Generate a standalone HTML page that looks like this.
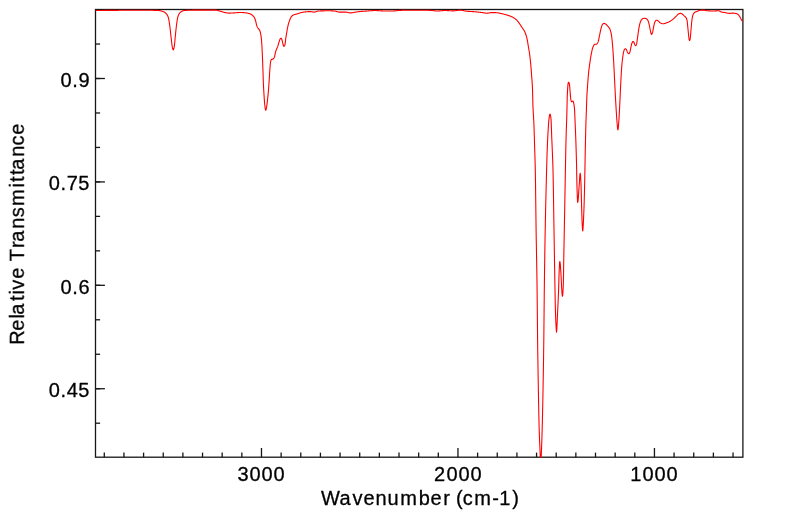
<!DOCTYPE html>
<html><head><meta charset="utf-8"><title>IR Spectrum</title>
<style>
html,body{margin:0;padding:0;background:#fff;}
body{width:799px;height:516px;overflow:hidden;font-family:"Liberation Sans",sans-serif;}
svg{display:block;}
text{font-family:"Liberation Sans",sans-serif;fill:#000;stroke:#000;stroke-width:0.3px;stroke-linejoin:round;}
</style></head><body>
<svg width="799" height="516" viewBox="0 0 799 516">
<rect width="799" height="516" fill="#fff"/>
<defs><clipPath id="c"><rect x="95.5" y="8.5" width="647.40" height="449.00"/></clipPath></defs>
<g stroke="#161616" stroke-width="1.3" fill="none">
<rect x="95.5" y="9.5" width="647.40" height="447.70"/>
<line x1="104.29" y1="457.2" x2="104.29" y2="452.60"/>
<line x1="123.94" y1="457.2" x2="123.94" y2="452.60"/>
<line x1="143.59" y1="457.2" x2="143.59" y2="452.60"/>
<line x1="163.24" y1="457.2" x2="163.24" y2="452.60"/>
<line x1="182.89" y1="457.2" x2="182.89" y2="452.60"/>
<line x1="202.54" y1="457.2" x2="202.54" y2="452.60"/>
<line x1="222.18" y1="457.2" x2="222.18" y2="452.60"/>
<line x1="241.83" y1="457.2" x2="241.83" y2="452.60"/>
<line x1="261.48" y1="457.2" x2="261.48" y2="448.00"/>
<line x1="281.13" y1="457.2" x2="281.13" y2="452.60"/>
<line x1="300.78" y1="457.2" x2="300.78" y2="452.60"/>
<line x1="320.42" y1="457.2" x2="320.42" y2="452.60"/>
<line x1="340.07" y1="457.2" x2="340.07" y2="452.60"/>
<line x1="359.72" y1="457.2" x2="359.72" y2="452.60"/>
<line x1="379.37" y1="457.2" x2="379.37" y2="452.60"/>
<line x1="399.02" y1="457.2" x2="399.02" y2="452.60"/>
<line x1="418.67" y1="457.2" x2="418.67" y2="452.60"/>
<line x1="438.31" y1="457.2" x2="438.31" y2="452.60"/>
<line x1="457.96" y1="457.2" x2="457.96" y2="448.00"/>
<line x1="477.61" y1="457.2" x2="477.61" y2="452.60"/>
<line x1="497.26" y1="457.2" x2="497.26" y2="452.60"/>
<line x1="516.91" y1="457.2" x2="516.91" y2="452.60"/>
<line x1="536.56" y1="457.2" x2="536.56" y2="452.60"/>
<line x1="556.20" y1="457.2" x2="556.20" y2="452.60"/>
<line x1="575.85" y1="457.2" x2="575.85" y2="452.60"/>
<line x1="595.50" y1="457.2" x2="595.50" y2="452.60"/>
<line x1="615.15" y1="457.2" x2="615.15" y2="452.60"/>
<line x1="634.80" y1="457.2" x2="634.80" y2="452.60"/>
<line x1="654.45" y1="457.2" x2="654.45" y2="448.00"/>
<line x1="674.09" y1="457.2" x2="674.09" y2="452.60"/>
<line x1="693.74" y1="457.2" x2="693.74" y2="452.60"/>
<line x1="713.39" y1="457.2" x2="713.39" y2="452.60"/>
<line x1="733.04" y1="457.2" x2="733.04" y2="452.60"/>
<line x1="95.5" y1="44.03" x2="100.10" y2="44.03"/>
<line x1="95.5" y1="78.50" x2="100.10" y2="78.50"/>
<line x1="95.5" y1="78.50" x2="104.90" y2="78.50"/>
<line x1="95.5" y1="112.97" x2="100.10" y2="112.97"/>
<line x1="95.5" y1="147.44" x2="100.10" y2="147.44"/>
<line x1="95.5" y1="181.91" x2="100.10" y2="181.91"/>
<line x1="95.5" y1="181.91" x2="104.90" y2="181.91"/>
<line x1="95.5" y1="216.38" x2="100.10" y2="216.38"/>
<line x1="95.5" y1="250.85" x2="100.10" y2="250.85"/>
<line x1="95.5" y1="285.32" x2="100.10" y2="285.32"/>
<line x1="95.5" y1="285.32" x2="104.90" y2="285.32"/>
<line x1="95.5" y1="319.79" x2="100.10" y2="319.79"/>
<line x1="95.5" y1="354.26" x2="100.10" y2="354.26"/>
<line x1="95.5" y1="388.73" x2="100.10" y2="388.73"/>
<line x1="95.5" y1="388.73" x2="104.90" y2="388.73"/>
<line x1="95.5" y1="423.20" x2="100.10" y2="423.20"/>
</g>
<path clip-path="url(#c)" d="M95.50,10.52 95.75,10.52 96.00,10.52 96.25,10.51 96.50,10.51 96.75,10.51 97.00,10.50 97.25,10.50 97.50,10.50 97.75,10.49 98.00,10.49 98.25,10.49 98.50,10.48 98.75,10.48 99.00,10.47 99.25,10.47 99.50,10.47 99.75,10.46 100.00,10.46 100.25,10.46 100.50,10.45 100.75,10.45 101.00,10.45 101.25,10.44 101.50,10.44 101.75,10.44 102.00,10.44 102.25,10.43 102.50,10.43 102.75,10.43 103.00,10.42 103.25,10.42 103.50,10.42 103.75,10.41 104.00,10.41 104.25,10.41 104.50,10.41 104.75,10.40 105.00,10.40 105.25,10.40 105.50,10.40 105.75,10.39 106.00,10.39 106.25,10.39 106.50,10.39 106.75,10.38 107.00,10.38 107.25,10.38 107.50,10.38 107.75,10.38 108.00,10.37 108.25,10.37 108.50,10.37 108.75,10.37 109.00,10.37 109.25,10.37 109.50,10.36 109.75,10.36 110.00,10.36 110.25,10.36 110.50,10.36 110.75,10.36 111.00,10.36 111.25,10.36 111.50,10.35 111.75,10.35 112.00,10.35 112.25,10.35 112.50,10.35 112.75,10.35 113.00,10.35 113.25,10.35 113.50,10.35 113.75,10.34 114.00,10.34 114.25,10.34 114.50,10.34 114.75,10.34 115.00,10.34 115.25,10.34 115.50,10.34 115.75,10.34 116.00,10.33 116.25,10.33 116.50,10.33 116.75,10.33 117.00,10.33 117.25,10.33 117.50,10.33 117.75,10.33 118.00,10.33 118.25,10.33 118.50,10.32 118.75,10.32 119.00,10.32 119.25,10.32 119.50,10.32 119.75,10.32 120.00,10.32 120.25,10.32 120.50,10.32 120.75,10.32 121.00,10.32 121.25,10.31 121.50,10.31 121.75,10.31 122.00,10.31 122.25,10.31 122.50,10.31 122.75,10.31 123.00,10.31 123.25,10.31 123.50,10.31 123.75,10.31 124.00,10.31 124.25,10.31 124.50,10.30 124.75,10.30 125.00,10.30 125.25,10.30 125.50,10.30 125.75,10.30 126.00,10.30 126.25,10.30 126.50,10.30 126.75,10.30 127.00,10.30 127.25,10.30 127.50,10.30 127.75,10.30 128.00,10.30 128.25,10.29 128.50,10.29 128.75,10.29 129.00,10.29 129.25,10.29 129.50,10.29 129.75,10.29 130.00,10.29 130.25,10.29 130.50,10.29 130.75,10.29 131.00,10.29 131.25,10.29 131.50,10.29 131.75,10.29 132.00,10.29 132.25,10.29 132.50,10.29 132.75,10.29 133.00,10.29 133.25,10.28 133.50,10.28 133.75,10.28 134.00,10.28 134.25,10.28 134.50,10.28 134.75,10.28 135.00,10.28 135.25,10.28 135.50,10.28 135.75,10.28 136.00,10.28 136.25,10.28 136.50,10.28 136.75,10.28 137.00,10.28 137.25,10.28 137.50,10.28 137.75,10.28 138.00,10.28 138.25,10.28 138.50,10.28 138.75,10.28 139.00,10.28 139.25,10.28 139.50,10.28 139.75,10.28 140.00,10.28 140.25,10.28 140.50,10.28 140.75,10.28 141.00,10.28 141.25,10.28 141.50,10.28 141.75,10.28 142.00,10.28 142.25,10.28 142.50,10.28 142.75,10.28 143.00,10.28 143.25,10.28 143.50,10.28 143.75,10.28 144.00,10.28 144.25,10.28 144.50,10.28 144.75,10.28 145.00,10.29 145.25,10.29 145.50,10.29 145.75,10.29 146.00,10.29 146.25,10.29 146.50,10.29 146.75,10.29 147.00,10.29 147.25,10.29 147.50,10.29 147.75,10.29 148.00,10.29 148.25,10.30 148.50,10.30 148.75,10.30 149.00,10.30 149.25,10.30 149.50,10.30 149.75,10.30 150.00,10.30 150.25,10.31 150.50,10.31 150.75,10.31 151.00,10.31 151.25,10.31 151.50,10.31 151.75,10.31 152.00,10.32 152.25,10.32 152.50,10.32 152.75,10.32 153.00,10.32 153.25,10.33 153.50,10.33 153.75,10.33 154.00,10.33 154.25,10.33 154.50,10.34 154.75,10.34 155.00,10.34 155.25,10.34 155.50,10.34 155.75,10.35 156.00,10.35 156.25,10.35 156.50,10.35 156.75,10.36 157.00,10.36 157.10,10.36 157.25,10.36 157.50,10.37 157.75,10.39 158.00,10.40 158.25,10.43 158.50,10.45 158.75,10.49 159.00,10.52 159.25,10.56 159.50,10.61 159.75,10.65 160.00,10.70 160.25,10.76 160.50,10.82 160.75,10.88 161.00,10.94 161.25,11.01 161.50,11.08 161.75,11.15 162.00,11.22 162.25,11.30 162.50,11.37 162.75,11.45 163.00,11.53 163.20,11.60 163.25,11.62 163.50,11.71 163.75,11.82 164.00,11.94 164.25,12.07 164.50,12.22 164.75,12.38 165.00,12.56 165.25,12.75 165.50,12.96 165.75,13.17 166.00,13.41 166.20,13.60 166.25,13.65 166.50,13.92 166.75,14.24 167.00,14.60 167.25,15.01 167.50,15.47 167.75,15.99 168.00,16.58 168.20,17.10 168.25,17.24 168.50,18.14 168.75,19.31 169.00,20.70 169.25,22.23 169.50,23.87 169.70,25.20 169.75,25.54 170.00,27.46 170.25,29.63 170.50,31.95 170.75,34.32 171.00,36.60 171.20,38.30 171.25,38.71 171.50,40.86 171.75,43.04 172.00,45.05 172.25,46.68 172.40,47.40 172.50,47.80 172.75,48.77 173.00,49.51 173.25,49.80 173.50,49.53 173.75,48.80 174.00,47.76 174.25,46.55 174.30,46.30 174.50,44.93 174.75,42.44 175.00,39.56 175.25,36.79 175.30,36.30 175.50,34.35 175.75,31.88 176.00,29.48 176.25,27.22 176.50,25.20 176.75,23.33 177.00,21.52 177.25,19.85 177.50,18.41 177.75,17.28 177.80,17.10 178.00,16.45 178.25,15.72 178.50,15.09 178.75,14.54 179.00,14.07 179.25,13.67 179.30,13.60 179.50,13.32 179.75,13.00 180.00,12.70 180.25,12.43 180.50,12.19 180.75,11.97 181.00,11.79 181.25,11.63 181.30,11.60 181.50,11.49 181.75,11.36 182.00,11.24 182.25,11.12 182.50,11.02 182.75,10.92 183.00,10.83 183.25,10.74 183.50,10.67 183.75,10.61 184.00,10.57 184.25,10.53 184.30,10.52 184.50,10.50 184.75,10.48 185.00,10.46 185.25,10.44 185.50,10.42 185.75,10.40 186.00,10.38 186.25,10.37 186.50,10.35 186.75,10.34 187.00,10.33 187.25,10.32 187.50,10.31 187.75,10.30 188.00,10.29 188.25,10.28 188.40,10.28 188.50,10.28 188.75,10.27 189.00,10.26 189.25,10.26 189.50,10.25 189.75,10.24 190.00,10.23 190.25,10.23 190.50,10.22 190.75,10.21 191.00,10.21 191.25,10.20 191.50,10.20 191.75,10.19 192.00,10.18 192.25,10.18 192.50,10.17 192.75,10.17 193.00,10.16 193.25,10.16 193.50,10.15 193.75,10.15 194.00,10.14 194.25,10.14 194.50,10.13 194.75,10.13 195.00,10.12 195.25,10.12 195.50,10.12 195.75,10.11 196.00,10.11 196.25,10.11 196.50,10.10 196.75,10.10 197.00,10.10 197.25,10.09 197.50,10.09 197.75,10.09 198.00,10.09 198.25,10.09 198.50,10.08 198.75,10.08 199.00,10.08 199.25,10.08 199.50,10.08 199.75,10.08 200.00,10.08 200.25,10.08 200.50,10.08 200.75,10.08 201.00,10.08 201.25,10.08 201.50,10.08 201.75,10.08 202.00,10.08 202.25,10.08 202.50,10.08 202.75,10.08 203.00,10.08 203.25,10.08 203.50,10.08 203.75,10.08 204.00,10.08 204.25,10.08 204.50,10.08 204.75,10.08 205.00,10.08 205.25,10.08 205.50,10.08 205.75,10.08 206.00,10.08 206.25,10.08 206.50,10.08 206.75,10.08 207.00,10.08 207.25,10.08 207.50,10.08 207.75,10.08 208.00,10.08 208.25,10.08 208.50,10.08 208.75,10.08 209.00,10.08 209.25,10.08 209.50,10.08 209.75,10.08 210.00,10.08 210.25,10.08 210.50,10.08 210.75,10.08 211.00,10.08 211.25,10.08 211.50,10.08 211.75,10.08 212.00,10.08 212.25,10.08 212.50,10.08 212.75,10.08 213.00,10.08 213.25,10.08 213.50,10.08 213.75,10.08 214.00,10.08 214.25,10.08 214.50,10.08 214.75,10.08 215.00,10.08 215.10,10.08 215.25,10.08 215.50,10.09 215.75,10.11 216.00,10.14 216.25,10.17 216.50,10.21 216.75,10.26 217.00,10.31 217.25,10.37 217.50,10.43 217.75,10.50 218.00,10.57 218.25,10.63 218.50,10.71 218.75,10.78 219.00,10.85 219.25,10.92 219.50,10.99 219.75,11.06 220.00,11.12 220.20,11.17 220.25,11.19 220.50,11.25 220.75,11.32 221.00,11.39 221.25,11.47 221.50,11.55 221.75,11.62 222.00,11.71 222.25,11.79 222.50,11.87 222.75,11.95 223.00,12.03 223.25,12.11 223.50,12.18 223.75,12.26 224.00,12.33 224.25,12.39 224.50,12.46 224.75,12.51 225.00,12.56 225.20,12.60 225.25,12.61 225.50,12.65 225.75,12.70 226.00,12.74 226.25,12.78 226.50,12.83 226.75,12.87 227.00,12.91 227.25,12.94 227.50,12.98 227.75,13.01 228.00,13.04 228.25,13.06 228.50,13.08 228.75,13.09 229.00,13.10 229.20,13.10 229.25,13.10 229.50,13.10 229.75,13.10 230.00,13.09 230.25,13.08 230.50,13.08 230.75,13.07 231.00,13.06 231.25,13.05 231.50,13.03 231.75,13.02 232.00,13.01 232.25,12.99 232.50,12.98 232.75,12.96 233.00,12.94 233.25,12.93 233.50,12.91 233.75,12.90 234.00,12.88 234.25,12.86 234.50,12.85 234.75,12.83 235.00,12.82 235.25,12.80 235.30,12.80 235.50,12.79 235.75,12.77 236.00,12.76 236.25,12.74 236.50,12.72 236.75,12.70 237.00,12.68 237.25,12.66 237.50,12.64 237.75,12.62 238.00,12.60 238.25,12.58 238.50,12.57 238.75,12.55 239.00,12.54 239.25,12.52 239.50,12.51 239.75,12.51 240.00,12.50 240.25,12.50 240.30,12.50 240.50,12.50 240.75,12.50 241.00,12.51 241.25,12.51 241.50,12.52 241.75,12.53 242.00,12.54 242.25,12.56 242.50,12.57 242.75,12.59 243.00,12.61 243.25,12.62 243.50,12.64 243.75,12.66 244.00,12.68 244.25,12.70 244.50,12.73 244.75,12.75 245.00,12.77 245.25,12.80 245.30,12.80 245.50,12.82 245.75,12.85 246.00,12.88 246.25,12.91 246.50,12.95 246.75,12.99 247.00,13.03 247.25,13.08 247.50,13.13 247.75,13.18 248.00,13.23 248.25,13.29 248.50,13.35 248.75,13.42 249.00,13.48 249.25,13.56 249.40,13.60 249.50,13.63 249.75,13.72 250.00,13.82 250.25,13.93 250.50,14.05 250.75,14.18 251.00,14.33 251.25,14.48 251.50,14.65 251.75,14.82 252.00,15.00 252.25,15.18 252.40,15.30 252.50,15.38 252.75,15.59 253.00,15.81 253.25,16.06 253.50,16.34 253.75,16.64 254.00,16.98 254.25,17.36 254.40,17.60 254.50,17.78 254.75,18.32 255.00,18.97 255.25,19.72 255.50,20.52 255.70,21.20 255.75,21.38 256.00,22.47 256.25,23.69 256.50,24.77 256.60,25.10 256.75,25.52 257.00,26.16 257.25,26.72 257.50,27.23 257.75,27.68 258.00,28.10 258.25,28.46 258.50,28.75 258.75,29.01 259.00,29.27 259.25,29.57 259.50,29.93 259.70,30.30 259.75,30.41 260.00,31.14 260.25,32.11 260.50,33.20 260.75,34.38 261.00,35.80 261.20,37.20 261.25,37.60 261.50,40.12 261.75,43.34 261.85,44.80 262.00,47.32 262.25,52.48 262.50,58.30 262.75,64.84 263.00,72.00 263.25,79.88 263.40,84.00 263.50,86.13 263.75,90.60 263.90,93.00 264.00,94.62 264.25,98.63 264.50,102.17 264.70,104.30 264.75,104.73 265.00,106.85 265.25,108.70 265.50,109.95 265.70,110.30 265.75,110.28 266.00,109.77 266.25,108.73 266.50,107.40 266.70,106.30 266.75,106.02 267.00,104.37 267.25,102.37 267.50,100.15 267.70,98.30 267.75,97.83 268.00,95.35 268.25,92.64 268.50,89.70 268.70,87.20 268.75,86.54 269.00,82.89 269.25,78.92 269.50,74.98 269.60,73.50 269.75,71.25 270.00,67.56 270.20,65.20 270.25,64.72 270.50,62.49 270.75,60.97 270.80,60.80 271.00,60.28 271.25,59.77 271.50,59.44 271.70,59.30 271.75,59.28 272.00,59.21 272.25,59.17 272.50,59.14 272.75,59.11 273.00,59.06 273.20,59.00 273.25,58.98 273.50,58.76 273.75,58.40 274.00,57.94 274.25,57.41 274.30,57.30 274.50,56.75 274.75,55.80 275.00,54.66 275.25,53.47 275.50,52.33 275.75,51.36 275.80,51.20 276.00,50.60 276.25,49.93 276.50,49.32 276.75,48.75 277.00,48.19 277.25,47.61 277.50,47.01 277.75,46.34 277.80,46.20 278.00,45.59 278.25,44.75 278.50,43.87 278.75,42.98 279.00,42.13 279.25,41.34 279.30,41.20 279.50,40.60 279.75,39.84 280.00,39.18 280.25,38.75 280.30,38.70 280.50,38.55 280.75,38.39 281.00,38.31 281.10,38.30 281.25,38.37 281.50,38.71 281.75,39.25 281.90,39.60 282.00,39.89 282.25,40.95 282.50,42.17 282.70,43.00 282.75,43.18 283.00,44.11 283.25,45.04 283.50,45.82 283.75,46.31 283.90,46.40 284.00,46.38 284.25,46.16 284.50,45.74 284.75,45.18 284.90,44.80 285.00,44.44 285.25,42.88 285.50,40.77 285.75,38.61 285.90,37.50 286.00,36.85 286.25,35.29 286.50,33.80 286.75,32.36 286.90,31.50 287.00,30.93 287.25,29.48 287.50,28.08 287.75,26.83 287.80,26.60 288.00,25.73 288.25,24.71 288.50,23.77 288.75,22.90 289.00,22.10 289.10,21.80 289.25,21.36 289.50,20.65 289.75,19.97 290.00,19.32 290.25,18.71 290.50,18.16 290.75,17.67 291.00,17.25 291.10,17.10 291.25,16.89 291.50,16.56 291.75,16.26 292.00,15.98 292.25,15.72 292.50,15.50 292.75,15.31 293.00,15.15 293.10,15.10 293.25,15.03 293.50,14.92 293.75,14.82 294.00,14.73 294.25,14.65 294.50,14.57 294.75,14.50 295.00,14.43 295.25,14.37 295.50,14.31 295.75,14.25 296.00,14.19 296.25,14.13 296.50,14.07 296.75,14.00 297.00,13.93 297.10,13.90 297.25,13.85 297.50,13.77 297.75,13.69 298.00,13.61 298.25,13.52 298.50,13.43 298.75,13.35 299.00,13.26 299.25,13.17 299.50,13.09 299.75,13.01 300.00,12.93 300.25,12.85 300.50,12.78 300.75,12.71 301.00,12.65 301.20,12.60 301.25,12.59 301.50,12.53 301.75,12.48 302.00,12.42 302.25,12.37 302.50,12.32 302.75,12.27 303.00,12.22 303.25,12.17 303.50,12.13 303.75,12.09 304.00,12.05 304.25,12.01 304.50,11.98 304.75,11.95 305.00,11.92 305.20,11.90 305.25,11.90 305.50,11.87 305.75,11.85 306.00,11.83 306.25,11.81 306.50,11.78 306.75,11.76 307.00,11.74 307.25,11.73 307.50,11.71 307.75,11.69 308.00,11.67 308.25,11.66 308.50,11.65 308.75,11.63 309.00,11.62 309.25,11.62 309.50,11.61 309.75,11.60 310.00,11.60 310.20,11.60 310.25,11.60 310.50,11.61 310.75,11.62 311.00,11.65 311.25,11.68 311.50,11.72 311.75,11.76 312.00,11.80 312.25,11.85 312.50,11.90 312.75,11.94 313.00,11.98 313.25,12.02 313.50,12.05 313.75,12.08 314.00,12.09 314.25,12.10 314.30,12.10 314.50,12.09 314.75,12.06 315.00,12.02 315.25,11.96 315.50,11.88 315.75,11.79 316.00,11.70 316.25,11.61 316.50,11.51 316.75,11.41 317.00,11.32 317.25,11.23 317.50,11.16 317.75,11.09 318.00,11.04 318.25,11.02 318.30,11.01 318.50,11.00 318.75,10.99 319.00,10.97 319.25,10.96 319.50,10.95 319.75,10.94 320.00,10.93 320.25,10.92 320.50,10.92 320.75,10.91 321.00,10.90 321.25,10.89 321.50,10.89 321.75,10.88 322.00,10.88 322.25,10.87 322.50,10.87 322.75,10.86 323.00,10.86 323.25,10.85 323.30,10.85 323.50,10.85 323.75,10.84 324.00,10.83 324.25,10.83 324.50,10.82 324.75,10.82 325.00,10.81 325.25,10.81 325.50,10.80 325.75,10.80 326.00,10.79 326.25,10.79 326.50,10.78 326.75,10.78 327.00,10.78 327.25,10.77 327.50,10.77 327.75,10.77 328.00,10.77 328.25,10.77 328.40,10.77 328.50,10.77 328.75,10.77 329.00,10.77 329.25,10.77 329.50,10.78 329.75,10.78 330.00,10.79 330.25,10.80 330.50,10.80 330.75,10.81 331.00,10.82 331.25,10.83 331.50,10.84 331.75,10.85 332.00,10.87 332.25,10.88 332.50,10.89 332.75,10.91 333.00,10.92 333.25,10.94 333.50,10.95 333.75,10.97 334.00,10.98 334.25,11.00 334.40,11.01 334.50,11.02 334.75,11.05 335.00,11.09 335.25,11.14 335.50,11.19 335.75,11.26 336.00,11.33 336.25,11.40 336.50,11.48 336.75,11.55 337.00,11.63 337.25,11.71 337.50,11.78 337.75,11.85 338.00,11.91 338.25,11.97 338.50,12.02 338.75,12.05 339.00,12.08 339.25,12.10 339.40,12.10 339.50,12.10 339.75,12.10 340.00,12.10 340.25,12.10 340.50,12.10 340.75,12.10 341.00,12.10 341.25,12.10 341.50,12.10 341.75,12.10 342.00,12.10 342.25,12.10 342.50,12.10 342.75,12.10 343.00,12.10 343.25,12.10 343.50,12.10 343.75,12.10 344.00,12.10 344.25,12.10 344.50,12.10 344.75,12.10 345.00,12.10 345.25,12.10 345.50,12.10 345.75,12.11 346.00,12.12 346.25,12.15 346.50,12.18 346.75,12.22 347.00,12.27 347.25,12.33 347.50,12.38 347.75,12.44 348.00,12.50 348.25,12.56 348.50,12.62 348.75,12.67 349.00,12.73 349.25,12.78 349.50,12.82 349.75,12.85 350.00,12.88 350.25,12.89 350.50,12.90 350.75,12.90 351.00,12.88 351.25,12.86 351.50,12.84 351.75,12.81 352.00,12.77 352.25,12.73 352.50,12.68 352.75,12.64 353.00,12.59 353.25,12.54 353.50,12.49 353.75,12.45 354.00,12.40 354.25,12.36 354.50,12.32 354.60,12.30 354.75,12.28 355.00,12.24 355.25,12.20 355.50,12.16 355.75,12.12 356.00,12.08 356.25,12.04 356.50,11.99 356.75,11.95 357.00,11.91 357.25,11.87 357.50,11.83 357.75,11.79 358.00,11.75 358.25,11.71 358.50,11.68 358.75,11.64 359.00,11.61 359.25,11.58 359.50,11.55 359.75,11.52 360.00,11.50 360.25,11.48 360.50,11.46 360.75,11.44 361.00,11.42 361.25,11.40 361.50,11.39 361.75,11.37 362.00,11.35 362.25,11.34 362.50,11.32 362.75,11.31 363.00,11.30 363.25,11.28 363.50,11.27 363.75,11.25 364.00,11.24 364.25,11.23 364.50,11.21 364.75,11.20 365.00,11.18 365.10,11.17 365.25,11.16 365.50,11.15 365.75,11.13 366.00,11.11 366.25,11.09 366.50,11.07 366.75,11.05 367.00,11.03 367.25,11.01 367.50,10.99 367.75,10.97 368.00,10.95 368.25,10.93 368.50,10.91 368.75,10.89 369.00,10.86 369.25,10.84 369.50,10.82 369.75,10.80 370.00,10.78 370.25,10.76 370.50,10.74 370.75,10.72 371.00,10.70 371.25,10.68 371.50,10.67 371.75,10.65 372.00,10.63 372.25,10.62 372.50,10.60 372.75,10.59 373.00,10.58 373.25,10.57 373.50,10.56 373.75,10.55 374.00,10.54 374.25,10.54 374.50,10.53 374.75,10.53 375.00,10.52 375.20,10.52 375.25,10.52 375.50,10.53 375.75,10.53 376.00,10.54 376.25,10.54 376.50,10.55 376.75,10.56 377.00,10.58 377.25,10.59 377.50,10.61 377.75,10.62 378.00,10.64 378.25,10.66 378.50,10.67 378.75,10.69 379.00,10.71 379.25,10.73 379.50,10.75 379.75,10.77 380.00,10.79 380.25,10.81 380.50,10.82 380.75,10.84 381.00,10.86 381.25,10.87 381.50,10.88 381.75,10.90 382.00,10.91 382.25,10.91 382.50,10.92 382.75,10.93 383.00,10.93 383.20,10.93 383.25,10.93 383.50,10.93 383.75,10.93 384.00,10.93 384.25,10.93 384.50,10.93 384.75,10.93 385.00,10.93 385.25,10.93 385.50,10.93 385.75,10.93 386.00,10.93 386.25,10.93 386.50,10.93 386.75,10.93 387.00,10.93 387.25,10.93 387.50,10.93 387.75,10.93 388.00,10.93 388.25,10.93 388.50,10.93 388.75,10.93 389.00,10.93 389.25,10.93 389.50,10.93 389.75,10.93 390.00,10.93 390.25,10.93 390.50,10.93 390.75,10.93 391.00,10.93 391.25,10.93 391.50,10.93 391.75,10.93 392.00,10.93 392.25,10.93 392.50,10.93 392.75,10.93 393.00,10.93 393.25,10.93 393.30,10.93 393.50,10.93 393.75,10.92 394.00,10.92 394.25,10.90 394.50,10.89 394.75,10.87 395.00,10.85 395.25,10.83 395.50,10.81 395.75,10.78 396.00,10.76 396.25,10.73 396.50,10.70 396.75,10.67 397.00,10.64 397.25,10.61 397.50,10.58 397.75,10.56 398.00,10.53 398.25,10.50 398.50,10.48 398.75,10.45 399.00,10.43 399.25,10.41 399.50,10.40 399.75,10.38 400.00,10.37 400.25,10.36 400.30,10.36 400.50,10.36 400.75,10.35 401.00,10.35 401.25,10.34 401.50,10.33 401.75,10.33 402.00,10.32 402.25,10.32 402.50,10.31 402.75,10.31 403.00,10.30 403.25,10.30 403.50,10.29 403.75,10.29 404.00,10.29 404.25,10.28 404.50,10.28 404.75,10.27 405.00,10.27 405.25,10.26 405.50,10.26 405.75,10.26 406.00,10.25 406.25,10.25 406.50,10.25 406.75,10.24 407.00,10.24 407.25,10.24 407.50,10.23 407.75,10.23 408.00,10.23 408.25,10.22 408.50,10.22 408.75,10.22 409.00,10.21 409.25,10.21 409.50,10.21 409.75,10.21 410.00,10.20 410.25,10.20 410.50,10.20 410.75,10.20 411.00,10.20 411.25,10.19 411.50,10.19 411.75,10.19 412.00,10.19 412.25,10.19 412.50,10.19 412.75,10.19 413.00,10.19 413.25,10.18 413.50,10.18 413.75,10.18 414.00,10.18 414.25,10.18 414.50,10.18 414.75,10.18 415.00,10.18 415.25,10.18 415.50,10.18 415.75,10.18 416.00,10.18 416.25,10.18 416.50,10.18 416.75,10.18 417.00,10.18 417.25,10.18 417.50,10.18 417.75,10.18 418.00,10.18 418.25,10.19 418.50,10.19 418.75,10.19 419.00,10.19 419.25,10.19 419.50,10.19 419.75,10.19 420.00,10.20 420.25,10.20 420.50,10.20 420.75,10.20 421.00,10.20 421.25,10.21 421.50,10.21 421.75,10.21 422.00,10.21 422.25,10.22 422.50,10.22 422.75,10.22 423.00,10.22 423.25,10.23 423.50,10.23 423.75,10.23 424.00,10.24 424.25,10.24 424.50,10.24 424.75,10.25 425.00,10.25 425.25,10.26 425.50,10.26 425.75,10.26 426.00,10.27 426.25,10.27 426.50,10.28 426.75,10.28 427.00,10.29 427.25,10.29 427.50,10.29 427.75,10.30 428.00,10.30 428.25,10.31 428.50,10.31 428.75,10.32 429.00,10.33 429.25,10.33 429.50,10.34 429.75,10.34 430.00,10.35 430.25,10.35 430.50,10.36 430.60,10.36 430.75,10.37 431.00,10.38 431.25,10.39 431.50,10.41 431.75,10.43 432.00,10.46 432.25,10.49 432.50,10.52 432.75,10.55 433.00,10.58 433.25,10.62 433.50,10.66 433.75,10.69 434.00,10.73 434.25,10.76 434.50,10.80 434.75,10.83 435.00,10.86 435.25,10.89 435.50,10.92 435.75,10.94 436.00,10.97 436.25,10.98 436.50,11.00 436.75,11.01 437.00,11.01 437.10,11.01 437.25,11.01 437.50,11.01 437.75,11.00 438.00,10.99 438.25,10.98 438.50,10.97 438.75,10.96 439.00,10.94 439.25,10.93 439.50,10.91 439.75,10.89 440.00,10.87 440.25,10.84 440.50,10.82 440.75,10.80 441.00,10.78 441.25,10.75 441.50,10.73 441.75,10.71 442.00,10.69 442.25,10.67 442.50,10.65 442.75,10.63 443.00,10.61 443.25,10.59 443.50,10.57 443.75,10.56 444.00,10.55 444.25,10.54 444.50,10.53 444.75,10.53 445.00,10.52 445.10,10.52 445.25,10.52 445.50,10.53 445.75,10.53 446.00,10.54 446.25,10.54 446.50,10.55 446.75,10.56 447.00,10.57 447.25,10.58 447.50,10.59 447.75,10.61 448.00,10.62 448.25,10.63 448.50,10.65 448.75,10.66 449.00,10.68 449.25,10.69 449.50,10.71 449.75,10.72 450.00,10.74 450.25,10.75 450.50,10.76 450.75,10.78 451.00,10.79 451.25,10.80 451.50,10.81 451.75,10.82 452.00,10.83 452.25,10.84 452.50,10.84 452.75,10.85 453.00,10.85 453.20,10.85 453.25,10.85 453.50,10.85 453.75,10.84 454.00,10.83 454.25,10.81 454.50,10.79 454.75,10.77 455.00,10.74 455.25,10.71 455.50,10.68 455.75,10.65 456.00,10.61 456.25,10.58 456.50,10.54 456.75,10.51 457.00,10.47 457.25,10.44 457.50,10.40 457.75,10.37 458.00,10.34 458.25,10.31 458.50,10.28 458.75,10.25 459.00,10.23 459.25,10.21 459.50,10.20 459.75,10.19 460.00,10.18 460.20,10.18 460.25,10.18 460.50,10.19 460.75,10.20 461.00,10.22 461.25,10.24 461.50,10.27 461.75,10.31 462.00,10.35 462.25,10.40 462.50,10.44 462.75,10.49 463.00,10.55 463.25,10.60 463.50,10.66 463.75,10.71 464.00,10.77 464.25,10.82 464.50,10.88 464.75,10.93 465.00,10.98 465.25,11.02 465.50,11.07 465.75,11.11 466.00,11.14 466.25,11.17 466.30,11.17 466.50,11.19 466.75,11.22 467.00,11.24 467.25,11.26 467.50,11.28 467.75,11.30 468.00,11.32 468.25,11.34 468.50,11.36 468.75,11.38 469.00,11.39 469.25,11.41 469.50,11.42 469.75,11.44 470.00,11.46 470.25,11.47 470.50,11.48 470.75,11.50 471.00,11.51 471.25,11.53 471.50,11.54 471.75,11.56 472.00,11.57 472.25,11.59 472.50,11.60 472.75,11.62 473.00,11.63 473.25,11.65 473.50,11.66 473.75,11.68 474.00,11.70 474.25,11.72 474.50,11.73 474.75,11.75 475.00,11.77 475.25,11.80 475.30,11.80 475.50,11.82 475.75,11.84 476.00,11.86 476.25,11.89 476.50,11.91 476.75,11.94 477.00,11.96 477.25,11.99 477.50,12.02 477.75,12.04 478.00,12.07 478.25,12.10 478.50,12.13 478.75,12.16 479.00,12.19 479.25,12.21 479.50,12.24 479.75,12.27 480.00,12.30 480.25,12.34 480.50,12.37 480.75,12.40 481.00,12.43 481.25,12.46 481.50,12.49 481.75,12.52 482.00,12.55 482.25,12.58 482.40,12.60 482.50,12.61 482.75,12.65 483.00,12.68 483.25,12.72 483.50,12.77 483.75,12.81 484.00,12.86 484.25,12.90 484.50,12.94 484.75,12.99 485.00,13.03 485.25,13.06 485.50,13.10 485.75,13.13 486.00,13.16 486.25,13.18 486.50,13.19 486.75,13.20 486.90,13.20 487.00,13.20 487.25,13.19 487.50,13.17 487.75,13.15 488.00,13.11 488.25,13.08 488.50,13.03 488.75,12.99 489.00,12.94 489.25,12.89 489.50,12.84 489.75,12.79 490.00,12.75 490.25,12.71 490.50,12.67 490.75,12.64 491.00,12.62 491.25,12.61 491.50,12.60 491.75,12.60 492.00,12.60 492.25,12.60 492.50,12.60 492.75,12.61 493.00,12.61 493.25,12.61 493.50,12.62 493.75,12.62 494.00,12.63 494.25,12.63 494.50,12.64 494.75,12.65 495.00,12.65 495.25,12.66 495.50,12.67 495.75,12.67 496.00,12.68 496.25,12.69 496.50,12.70 496.75,12.71 497.00,12.73 497.25,12.75 497.50,12.78 497.75,12.82 498.00,12.85 498.25,12.89 498.50,12.94 498.75,12.99 499.00,13.04 499.25,13.09 499.50,13.15 499.75,13.20 500.00,13.26 500.25,13.32 500.50,13.37 500.75,13.43 501.00,13.49 501.25,13.55 501.50,13.60 501.75,13.65 502.00,13.71 502.25,13.77 502.50,13.83 502.75,13.89 503.00,13.95 503.25,14.01 503.50,14.07 503.75,14.14 504.00,14.20 504.25,14.27 504.50,14.34 504.75,14.41 505.00,14.48 505.25,14.55 505.50,14.62 505.75,14.69 506.00,14.77 506.25,14.84 506.50,14.92 506.75,14.99 507.00,15.07 507.10,15.10 507.25,15.15 507.50,15.22 507.75,15.30 508.00,15.38 508.25,15.46 508.50,15.54 508.75,15.62 509.00,15.70 509.25,15.78 509.50,15.86 509.75,15.95 510.00,16.04 510.25,16.13 510.50,16.22 510.75,16.32 511.00,16.42 511.25,16.52 511.50,16.63 511.75,16.74 512.00,16.85 512.10,16.90 512.25,16.97 512.50,17.09 512.75,17.22 513.00,17.36 513.25,17.50 513.50,17.64 513.75,17.79 514.00,17.95 514.25,18.11 514.50,18.28 514.75,18.46 515.00,18.64 515.25,18.83 515.50,19.02 515.75,19.22 516.00,19.43 516.20,19.60 516.25,19.64 516.50,19.87 516.75,20.13 517.00,20.39 517.25,20.68 517.50,20.98 517.75,21.29 518.00,21.61 518.25,21.93 518.50,22.26 518.75,22.60 519.00,22.93 519.20,23.20 519.25,23.27 519.50,23.61 519.75,23.96 520.00,24.32 520.25,24.69 520.50,25.06 520.75,25.45 521.00,25.83 521.25,26.22 521.50,26.61 521.75,27.00 522.00,27.39 522.20,27.70 522.25,27.78 522.50,28.15 522.75,28.52 523.00,28.88 523.25,29.25 523.50,29.62 523.75,30.01 524.00,30.41 524.25,30.84 524.50,31.30 524.70,31.70 524.75,31.80 525.00,32.34 525.25,32.93 525.50,33.57 525.75,34.25 526.00,35.00 526.25,35.79 526.40,36.30 526.50,36.66 526.75,37.64 527.00,38.74 527.25,39.94 527.50,41.22 527.70,42.30 527.75,42.58 528.00,44.16 528.25,45.87 528.50,47.50 528.75,48.91 529.00,50.24 529.25,51.64 529.40,52.60 529.50,53.29 529.75,55.17 530.00,57.23 530.25,59.47 530.50,61.87 530.70,63.90 530.75,64.43 531.00,67.26 531.25,70.38 531.50,73.72 531.70,76.50 531.75,77.19 532.00,80.47 532.25,84.13 532.50,89.10 532.75,99.22 532.90,105.00 533.00,107.50 533.25,112.42 533.50,116.40 533.75,120.68 533.90,123.90 534.00,126.45 534.25,133.93 534.50,142.33 534.70,149.10 534.75,150.73 535.00,158.53 535.25,167.75 535.30,170.00 535.50,182.12 535.75,202.21 536.00,222.81 536.10,230.00 536.25,239.42 536.50,253.35 536.75,267.02 537.00,282.67 537.10,290.00 537.25,303.93 537.50,330.88 537.60,340.00 537.75,351.41 538.00,368.07 538.20,380.00 538.25,382.89 538.50,397.22 538.75,410.67 539.00,422.41 539.20,430.00 539.25,431.62 539.50,438.73 539.75,444.69 540.00,450.15 540.25,455.79 540.30,457.00 540.50,463.10 540.75,468.00 541.00,463.20 541.20,457.00 541.25,455.70 541.50,449.26 541.75,442.54 542.00,435.06 542.15,430.00 542.25,426.31 542.50,415.91 542.75,404.06 543.00,391.05 543.20,380.00 543.25,377.15 543.50,361.81 543.75,343.95 543.80,340.00 544.00,320.52 544.25,294.34 544.30,290.00 544.50,274.39 544.75,256.79 545.00,241.17 545.20,230.00 545.25,227.38 545.50,214.99 545.75,203.65 546.00,193.15 546.25,183.26 546.50,173.75 546.60,170.00 546.75,164.43 547.00,155.85 547.10,152.90 547.25,148.88 547.50,142.76 547.75,137.36 548.00,132.70 548.25,128.46 548.50,124.54 548.75,121.25 549.00,118.90 549.25,117.15 549.50,115.61 549.75,114.52 550.00,114.10 550.25,114.46 550.50,115.45 550.75,116.97 551.00,118.90 551.25,123.50 551.50,130.87 551.70,136.50 551.75,137.71 552.00,143.49 552.25,149.21 552.50,155.40 552.75,161.98 553.00,170.00 553.25,181.88 553.50,197.23 553.75,213.96 554.00,230.00 554.25,245.29 554.50,260.77 554.75,275.87 555.00,290.00 555.25,303.62 555.40,310.00 555.50,313.15 555.75,319.70 556.00,324.82 556.10,326.60 556.25,329.38 556.50,332.20 556.75,329.79 557.00,325.30 557.25,320.33 557.50,314.52 557.70,310.00 557.75,308.96 558.00,304.04 558.25,298.79 558.30,297.60 558.50,292.18 558.70,286.00 558.75,284.27 559.00,275.40 559.25,269.27 559.50,264.17 559.75,261.58 559.80,261.50 560.00,262.07 560.25,264.12 560.50,267.18 560.75,270.74 560.90,272.90 561.00,274.56 561.25,279.97 561.50,285.00 561.75,289.18 562.00,293.14 562.25,295.79 562.40,296.30 562.50,296.13 562.75,294.32 563.00,290.85 563.25,286.08 563.30,285.00 563.50,276.02 563.75,259.42 563.80,256.50 564.00,245.84 564.25,232.89 564.40,225.00 564.50,219.63 564.75,206.02 565.00,192.28 565.25,178.55 565.50,165.00 565.75,151.46 565.80,149.10 566.00,140.82 566.25,131.87 566.30,130.20 566.50,124.37 566.75,117.60 566.90,112.60 567.00,107.77 567.20,97.90 567.25,96.48 567.50,90.90 567.70,87.80 567.75,87.13 568.00,84.07 568.20,82.80 568.25,82.70 568.50,82.34 568.60,82.30 568.75,82.37 569.00,82.79 569.25,83.49 569.40,84.00 569.50,84.55 569.75,87.17 570.00,90.43 570.10,91.60 570.25,93.38 570.50,96.53 570.75,98.91 570.80,99.20 571.00,100.14 571.25,101.11 571.50,101.65 571.60,101.70 571.75,101.67 572.00,101.54 572.25,101.35 572.50,101.16 572.75,101.03 572.90,101.00 573.00,101.05 573.25,101.52 573.50,102.39 573.75,103.49 573.90,104.20 574.00,104.71 574.25,106.34 574.50,108.75 574.60,110.00 574.75,113.38 574.90,117.60 575.00,120.00 575.25,125.67 575.50,131.41 575.70,136.50 575.75,137.88 576.00,145.36 576.25,153.66 576.30,155.40 576.50,162.73 576.60,167.00 576.75,175.86 576.90,183.90 577.00,187.38 577.25,195.30 577.50,200.82 577.70,202.40 577.75,202.36 578.00,201.15 578.25,198.59 578.50,195.16 578.75,191.34 579.00,187.60 579.20,185.00 579.25,184.39 579.50,180.73 579.75,176.91 580.00,174.05 580.20,173.20 580.25,173.26 580.50,175.14 580.75,178.99 581.00,183.90 581.25,192.48 581.50,202.80 581.75,211.58 582.00,219.34 582.10,221.70 582.25,224.91 582.50,229.51 582.70,231.00 582.75,230.94 583.00,228.96 583.25,224.91 583.50,219.73 583.70,215.40 583.75,214.30 584.00,207.73 584.25,199.57 584.50,190.20 584.75,178.37 585.00,165.00 585.25,151.57 585.30,149.10 585.50,139.82 585.75,129.31 585.90,123.90 586.00,120.79 586.25,114.09 586.40,110.00 586.50,106.88 586.75,99.08 586.80,97.90 587.00,94.04 587.25,90.13 587.50,86.68 587.60,85.30 587.75,83.20 588.00,79.77 588.25,76.57 588.50,73.71 588.60,72.70 588.75,71.29 589.00,69.15 589.25,67.20 589.50,65.38 589.75,63.64 589.90,62.60 590.00,61.91 590.25,60.20 590.50,58.53 590.75,56.93 591.00,55.43 591.25,54.05 591.40,53.30 591.50,52.82 591.75,51.63 592.00,50.50 592.25,49.44 592.50,48.49 592.75,47.66 593.00,47.00 593.25,46.43 593.50,45.88 593.75,45.39 594.00,44.97 594.25,44.64 594.50,44.44 594.60,44.40 594.75,44.36 595.00,44.31 595.25,44.28 595.50,44.26 595.75,44.24 596.00,44.21 596.25,44.18 596.50,44.13 596.60,44.10 596.75,44.03 597.00,43.81 597.25,43.48 597.50,43.06 597.75,42.57 598.00,42.03 598.10,41.80 598.25,41.40 598.50,40.51 598.75,39.40 599.00,38.17 599.25,36.90 599.50,35.66 599.60,35.20 599.75,34.50 600.00,33.26 600.25,31.98 600.50,30.73 600.75,29.57 601.00,28.55 601.10,28.20 601.25,27.70 601.50,26.87 601.75,26.10 602.00,25.40 602.25,24.83 602.50,24.41 602.60,24.30 602.75,24.16 603.00,23.93 603.25,23.74 603.50,23.58 603.75,23.46 604.00,23.41 604.10,23.40 604.25,23.41 604.50,23.46 604.75,23.56 605.00,23.68 605.25,23.83 605.50,23.98 605.70,24.10 605.75,24.13 606.00,24.31 606.25,24.52 606.50,24.76 606.75,25.02 607.00,25.30 607.25,25.58 607.50,25.87 607.70,26.10 607.75,26.16 608.00,26.43 608.25,26.70 608.50,26.98 608.75,27.27 609.00,27.59 609.25,27.94 609.50,28.34 609.70,28.70 609.75,28.80 610.00,29.35 610.25,30.02 610.50,30.80 610.75,31.69 611.00,32.70 611.25,33.92 611.50,35.44 611.75,37.21 612.00,39.20 612.25,41.61 612.50,44.51 612.75,47.66 612.80,48.30 613.00,50.97 613.25,54.62 613.40,57.00 613.50,58.69 613.75,63.29 614.00,68.25 614.25,73.33 614.50,78.30 614.75,83.22 615.00,88.22 615.25,93.17 615.50,97.92 615.70,101.50 615.75,102.36 616.00,106.69 616.25,110.93 616.50,114.93 616.75,118.57 617.00,121.70 617.25,124.72 617.50,127.60 617.75,129.53 617.90,129.90 618.00,129.74 618.25,128.15 618.50,125.43 618.75,122.31 618.80,121.70 619.00,118.91 619.25,114.57 619.50,109.64 619.75,104.51 619.90,101.50 620.00,99.48 620.25,94.07 620.50,88.47 620.75,83.08 621.00,78.30 621.25,74.04 621.50,70.03 621.75,66.46 622.00,63.50 622.25,61.21 622.50,59.27 622.60,58.50 622.75,57.28 623.00,55.24 623.25,53.56 623.30,53.30 623.50,52.36 623.75,51.32 624.00,50.48 624.25,49.88 624.30,49.80 624.50,49.50 624.75,49.16 625.00,48.92 625.25,48.80 625.30,48.80 625.50,48.84 625.75,48.98 626.00,49.19 626.25,49.45 626.30,49.50 626.50,49.81 626.75,50.41 627.00,51.11 627.25,51.79 627.50,52.30 627.75,52.70 628.00,53.09 628.25,53.43 628.50,53.68 628.75,53.80 628.80,53.80 629.00,53.72 629.25,53.41 629.50,52.95 629.75,52.41 629.80,52.30 630.00,51.68 630.25,50.56 630.50,49.26 630.75,48.02 630.80,47.80 631.00,46.91 631.25,45.75 631.50,44.66 631.75,43.73 631.90,43.30 632.00,43.05 632.25,42.43 632.50,41.90 632.75,41.56 632.90,41.50 633.00,41.51 633.25,41.57 633.50,41.68 633.70,41.80 633.75,41.85 634.00,42.41 634.25,43.27 634.50,44.07 634.60,44.30 634.75,44.58 635.00,45.05 635.25,45.45 635.50,45.72 635.70,45.80 635.75,45.79 636.00,45.50 636.25,44.90 636.50,44.13 636.60,43.80 636.75,43.17 637.00,41.65 637.25,39.80 637.50,37.90 637.60,37.20 637.75,36.16 638.00,34.33 638.25,32.47 638.50,30.67 638.75,29.05 638.90,28.20 639.00,27.67 639.25,26.41 639.50,25.23 639.75,24.16 640.00,23.23 640.20,22.60 640.25,22.46 640.50,21.77 640.75,21.13 641.00,20.56 641.25,20.09 641.50,19.72 641.60,19.60 641.75,19.45 642.00,19.21 642.25,18.99 642.50,18.81 642.75,18.66 643.00,18.56 643.20,18.50 643.25,18.49 643.50,18.44 643.75,18.40 644.00,18.36 644.25,18.33 644.50,18.31 644.75,18.30 644.90,18.30 645.00,18.30 645.25,18.34 645.50,18.40 645.75,18.49 646.00,18.61 646.25,18.74 646.50,18.88 646.70,19.00 646.75,19.03 647.00,19.23 647.25,19.48 647.50,19.80 647.75,20.17 648.00,20.60 648.25,21.17 648.50,21.94 648.75,22.85 649.00,23.86 649.25,24.89 649.30,25.10 649.50,26.02 649.75,27.34 650.00,28.74 650.25,30.08 650.50,31.20 650.75,32.25 651.00,33.29 651.25,34.08 651.50,34.40 651.75,34.25 652.00,33.87 652.25,33.32 652.50,32.70 652.75,31.77 653.00,30.43 653.25,28.95 653.50,27.60 653.75,26.36 654.00,25.12 654.25,23.99 654.50,23.10 654.75,22.38 655.00,21.75 655.25,21.24 655.50,20.90 655.75,20.67 656.00,20.48 656.25,20.32 656.50,20.23 656.70,20.20 656.75,20.20 657.00,20.25 657.25,20.36 657.50,20.51 657.75,20.68 658.00,20.86 658.20,21.00 658.25,21.03 658.50,21.23 658.75,21.47 659.00,21.73 659.25,22.00 659.50,22.26 659.75,22.50 660.00,22.71 660.25,22.87 660.30,22.90 660.50,23.00 660.75,23.12 661.00,23.23 661.25,23.34 661.50,23.44 661.75,23.54 662.00,23.62 662.25,23.69 662.50,23.74 662.75,23.78 663.00,23.80 663.10,23.80 663.25,23.80 663.50,23.78 663.75,23.74 664.00,23.69 664.25,23.63 664.50,23.55 664.75,23.47 665.00,23.39 665.25,23.30 665.50,23.21 665.75,23.12 666.00,23.03 666.10,23.00 666.25,22.95 666.50,22.86 666.75,22.78 667.00,22.68 667.25,22.58 667.50,22.48 667.75,22.38 668.00,22.27 668.25,22.16 668.50,22.05 668.75,21.93 669.00,21.81 669.25,21.68 669.50,21.55 669.60,21.50 669.75,21.42 670.00,21.28 670.25,21.13 670.50,20.98 670.75,20.82 671.00,20.66 671.25,20.49 671.50,20.32 671.75,20.14 672.00,19.95 672.25,19.77 672.50,19.57 672.75,19.38 673.00,19.18 673.10,19.10 673.25,18.98 673.50,18.76 673.75,18.53 674.00,18.29 674.25,18.05 674.50,17.80 674.75,17.54 675.00,17.29 675.25,17.03 675.50,16.78 675.75,16.53 676.00,16.29 676.20,16.10 676.25,16.05 676.50,15.81 676.75,15.57 677.00,15.31 677.25,15.06 677.50,14.82 677.75,14.58 678.00,14.37 678.25,14.18 678.50,14.01 678.70,13.90 678.75,13.88 679.00,13.75 679.25,13.63 679.50,13.52 679.75,13.42 680.00,13.35 680.25,13.31 680.40,13.30 680.50,13.30 680.75,13.34 681.00,13.42 681.25,13.52 681.50,13.64 681.75,13.77 682.00,13.90 682.25,14.05 682.50,14.24 682.75,14.45 683.00,14.69 683.25,14.94 683.50,15.20 683.75,15.46 684.00,15.71 684.20,15.90 684.25,15.95 684.50,16.16 684.75,16.36 685.00,16.55 685.25,16.76 685.50,16.99 685.75,17.27 686.00,17.60 686.25,18.02 686.50,18.57 686.75,19.28 687.00,20.20 687.25,21.84 687.50,24.23 687.70,26.20 687.75,26.67 688.00,29.21 688.25,31.84 688.50,34.30 688.75,36.73 689.00,38.80 689.10,39.30 689.25,39.83 689.50,40.43 689.60,40.50 689.75,40.36 690.00,39.63 690.20,38.80 690.25,38.54 690.50,36.19 690.75,33.02 690.90,31.20 691.00,30.05 691.25,27.05 691.50,24.20 691.60,23.20 691.75,21.79 692.00,19.60 692.25,17.87 692.30,17.60 692.50,16.66 692.75,15.64 693.00,14.81 693.25,14.20 693.30,14.10 693.50,13.75 693.75,13.36 694.00,13.03 694.25,12.75 694.50,12.52 694.75,12.33 694.80,12.30 695.00,12.19 695.25,12.06 695.50,11.95 695.75,11.85 696.00,11.77 696.25,11.69 696.50,11.61 696.75,11.53 697.00,11.45 697.25,11.36 697.30,11.34 697.50,11.26 697.75,11.15 698.00,11.03 698.25,10.91 698.50,10.79 698.75,10.68 699.00,10.58 699.25,10.49 699.50,10.42 699.75,10.37 699.80,10.36 700.00,10.33 700.25,10.30 700.50,10.27 700.75,10.24 701.00,10.22 701.25,10.19 701.50,10.17 701.75,10.15 702.00,10.13 702.25,10.11 702.50,10.10 702.75,10.09 703.00,10.08 703.25,10.08 703.40,10.08 703.50,10.08 703.75,10.09 704.00,10.12 704.25,10.15 704.50,10.19 704.75,10.24 705.00,10.30 705.25,10.35 705.50,10.41 705.75,10.47 706.00,10.53 706.25,10.59 706.50,10.64 706.75,10.69 707.00,10.73 707.25,10.76 707.40,10.77 707.50,10.77 707.75,10.79 708.00,10.81 708.25,10.82 708.50,10.84 708.75,10.86 709.00,10.87 709.25,10.88 709.50,10.90 709.75,10.91 710.00,10.92 710.25,10.93 710.50,10.95 710.75,10.96 711.00,10.97 711.25,10.97 711.50,10.98 711.75,10.99 712.00,11.00 712.25,11.00 712.50,11.01 712.75,11.01 713.00,11.01 713.25,11.01 713.40,11.01 713.50,11.01 713.75,11.01 714.00,11.00 714.25,10.99 714.50,10.98 714.75,10.97 715.00,10.96 715.25,10.94 715.50,10.92 715.75,10.90 716.00,10.89 716.25,10.87 716.50,10.85 716.75,10.83 717.00,10.82 717.25,10.80 717.50,10.79 717.75,10.78 718.00,10.77 718.25,10.77 718.50,10.77 718.75,10.79 719.00,10.84 719.25,10.93 719.50,11.03 719.75,11.16 720.00,11.29 720.25,11.43 720.50,11.57 720.75,11.70 721.00,11.82 721.25,11.92 721.50,12.00 721.75,12.06 722.00,12.12 722.25,12.17 722.50,12.22 722.75,12.26 723.00,12.31 723.25,12.35 723.50,12.39 723.75,12.43 724.00,12.46 724.25,12.50 724.50,12.54 724.75,12.58 725.00,12.62 725.25,12.66 725.50,12.70 725.75,12.75 726.00,12.80 726.25,12.85 726.50,12.91 726.75,12.97 727.00,13.02 727.25,13.08 727.50,13.14 727.75,13.19 728.00,13.24 728.25,13.28 728.50,13.32 728.75,13.36 729.00,13.38 729.25,13.39 729.50,13.40 729.75,13.39 730.00,13.38 730.25,13.35 730.50,13.32 730.75,13.28 731.00,13.24 731.25,13.20 731.50,13.17 731.75,13.14 732.00,13.12 732.25,13.10 732.40,13.10 732.50,13.10 732.75,13.10 733.00,13.11 733.25,13.12 733.50,13.14 733.75,13.16 734.00,13.18 734.25,13.20 734.50,13.23 734.75,13.26 735.00,13.30 735.25,13.34 735.50,13.38 735.75,13.42 736.00,13.46 736.20,13.50 736.25,13.51 736.50,13.58 736.75,13.67 737.00,13.79 737.25,13.93 737.50,14.09 737.75,14.26 738.00,14.44 738.20,14.60 738.25,14.64 738.50,14.89 738.75,15.19 739.00,15.53 739.25,15.90 739.50,16.29 739.70,16.60 739.75,16.68 740.00,17.11 740.25,17.59 740.50,18.09 740.75,18.59 741.00,19.06 741.20,19.40 741.25,19.48 741.50,19.87 741.75,20.25 742.00,20.61 742.25,20.95 742.50,21.28 742.60,21.40" fill="none" stroke="#ff0000" stroke-width="1.1" stroke-linejoin="round" stroke-linecap="round"/>
<g font-size="20px" opacity="0.999">
<text x="60.49 72.27 78.49" y="86.80">0.9</text>
<text x="48.64 60.42 66.63 78.16" y="190.21">0.75</text>
<text x="60.49 72.27 78.42" y="293.62">0.6</text>
<text x="48.64 60.42 66.70 78.16" y="397.03">0.45</text>
<text x="237.55 249.49 261.49 273.49" y="480.60">3000</text>
<text x="433.94 446.44 458.44 470.44" y="480.60">2000</text>
<text x="630.17 642.44 654.44 666.44" y="480.60">1000</text>
<text x="321.05 339.51 352.48 363.44 375.41 387.44 400.15 418.70 430.44 443.16 449.98 456.09 462.82 474.15 492.15 499.15 512.22" y="504.90">Wavenumber (cm-1)</text>
<text transform="translate(23.9,0) rotate(-90)" x="-344.78 -330.74 -318.44 -314.70 -301.07 -294.43 -289.72 -278.76 -267.22 -261.32 -248.04 -241.73 -228.82 -217.16 -206.08 -187.46 -182.10 -175.10 -169.73 -156.82 -145.41 -134.79" y="0">Relative Transmittance</text>
</g>
</svg>
</body></html>
